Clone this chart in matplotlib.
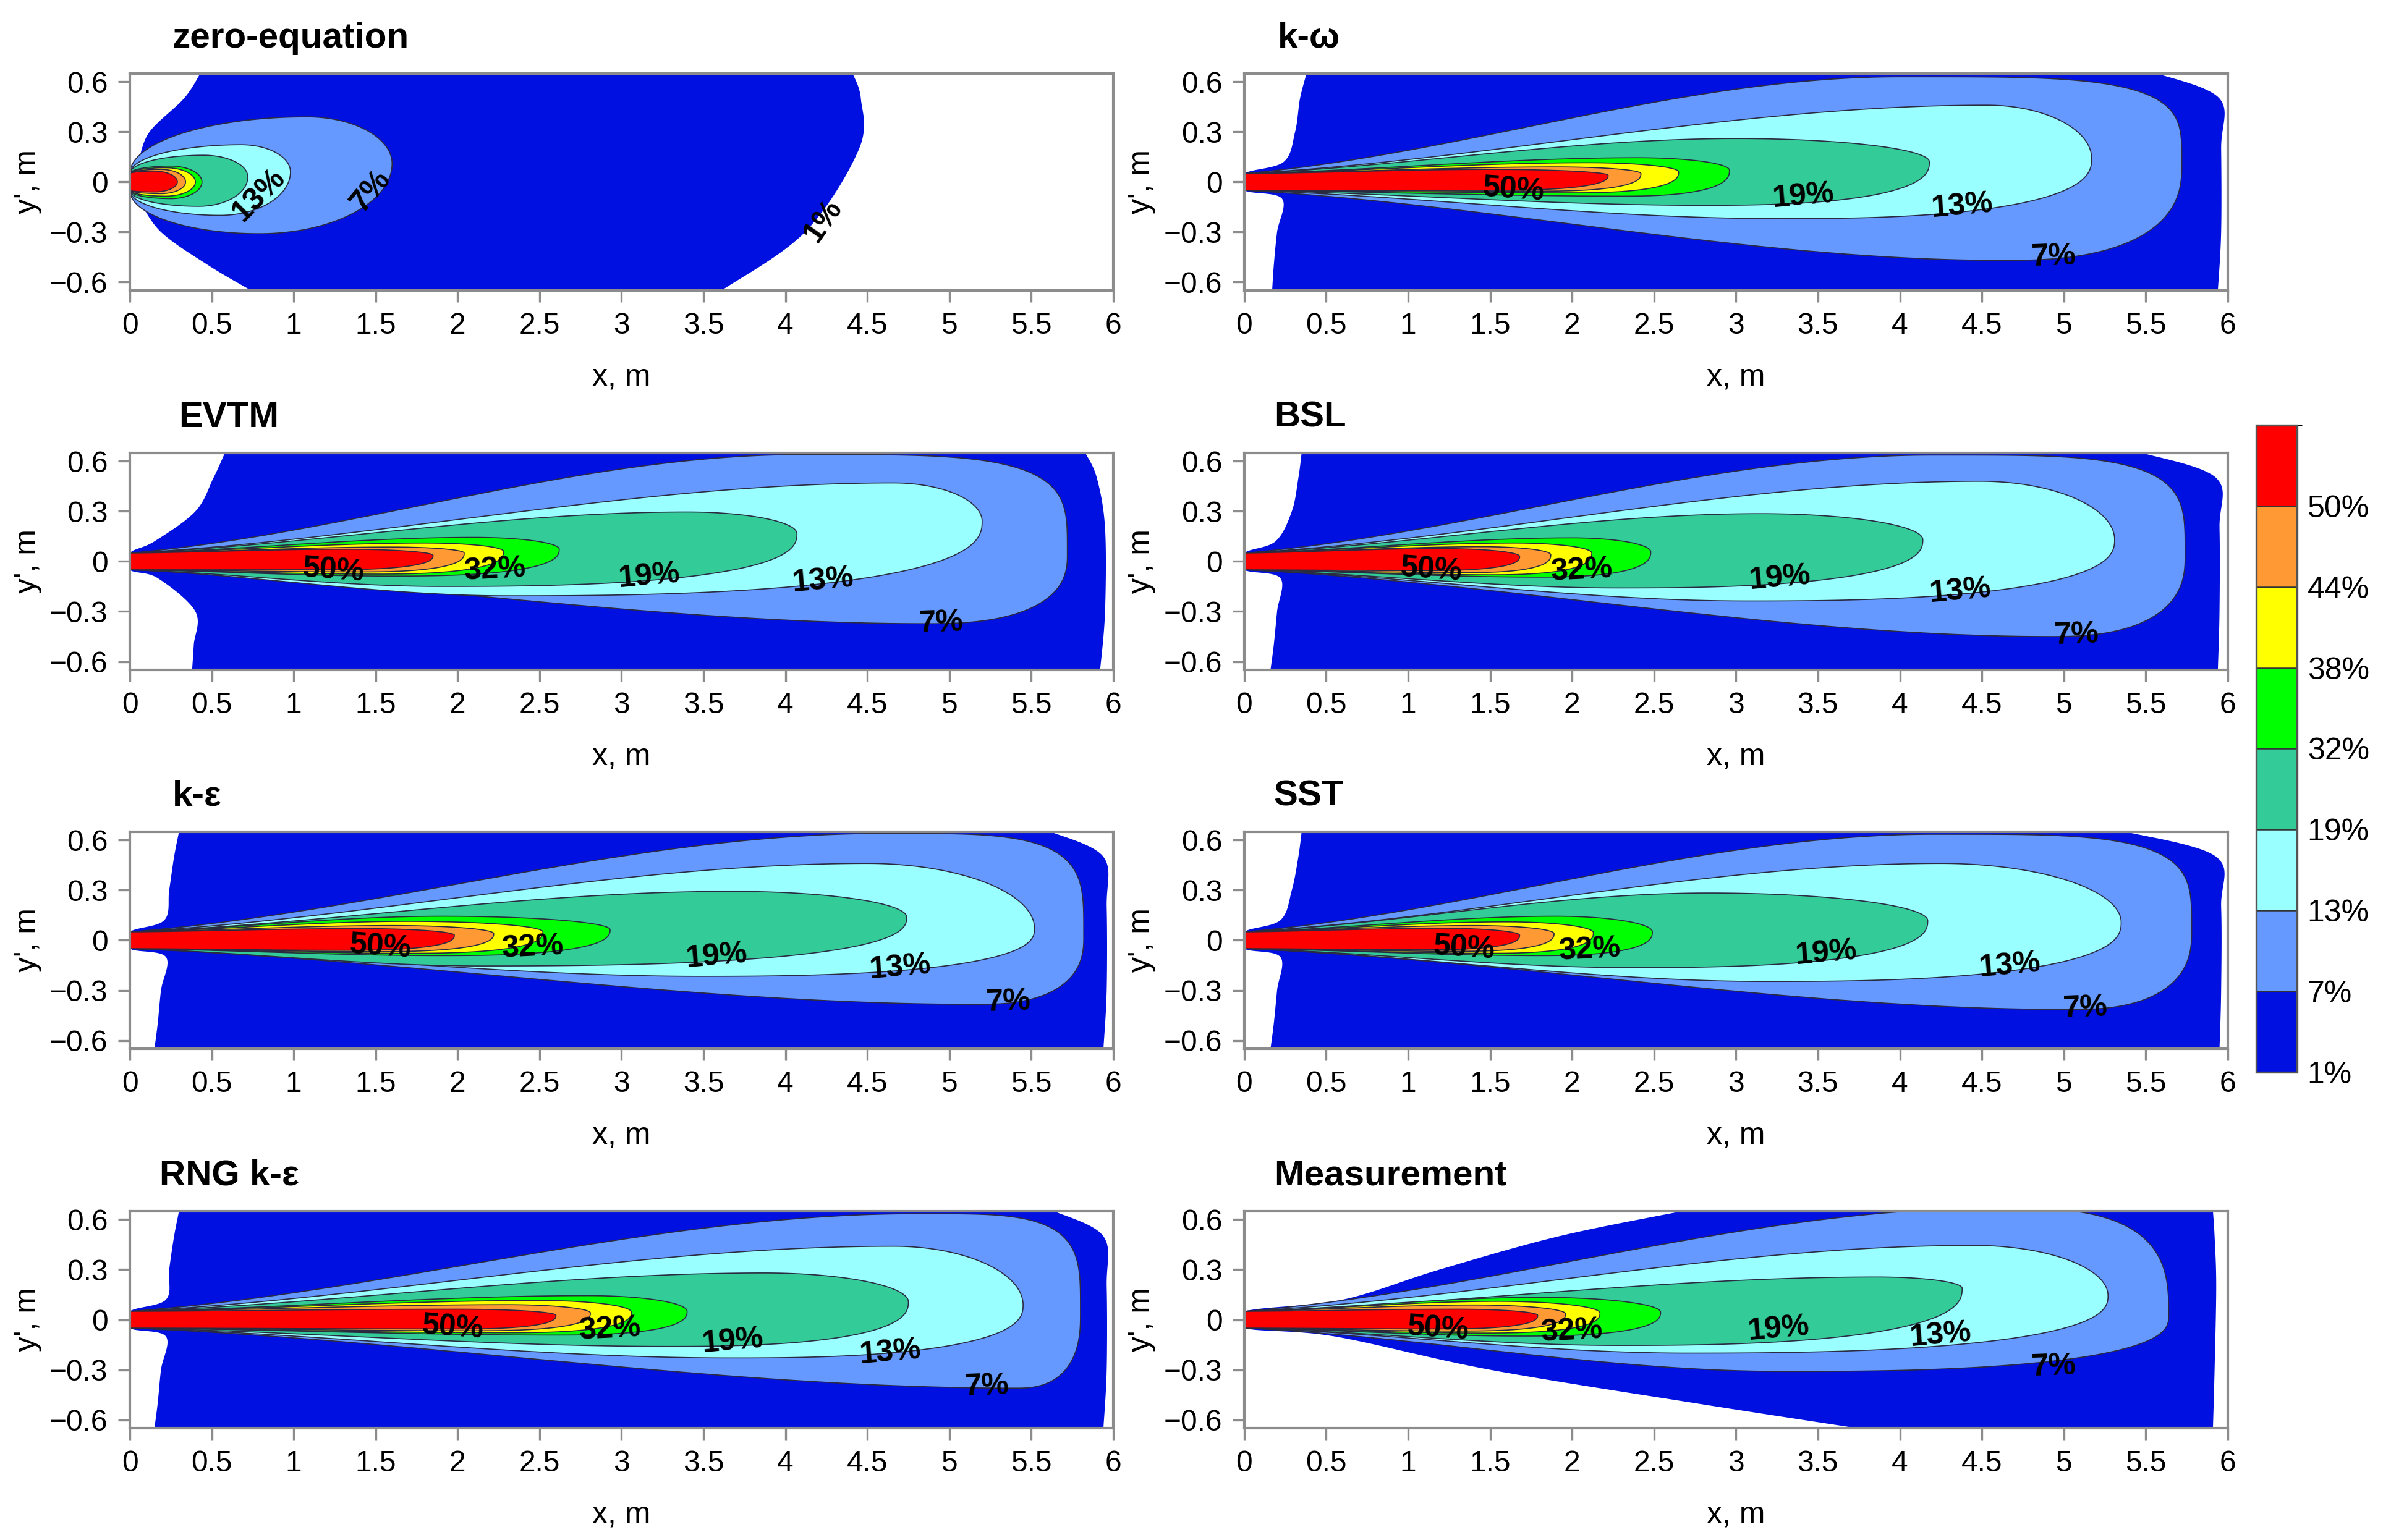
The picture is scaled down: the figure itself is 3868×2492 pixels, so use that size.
import numpy as np
import matplotlib
matplotlib.use('Agg')
import matplotlib.pyplot as plt
from matplotlib.colors import ListedColormap, BoundaryNorm
from matplotlib.cm import ScalarMappable
from matplotlib.ticker import FuncFormatter

plt.rcParams['font.family'] = ['Liberation Sans', 'DejaVu Sans']

# panels, in reading order (row by row)
panel_names = ['zero-equation', 'k-ω', 'EVTM', 'BSL', 'k-ε', 'SST', 'RNG k-ε', 'Measurement']
title_x = [0.043, 0.034, 0.05, 0.03, 0.043, 0.03, 0.03, 0.03]

# contour levels (%) and band colours, 1% band is the outer region
levels = [7, 13, 19, 32, 38, 44, 50]
bounds = [1, 7, 13, 19, 32, 38, 44, 50, 56]
colors = ['#0010E0', '#6699FF', '#99FFFF', '#33CC99', '#00FF00', '#FFFF00', '#FF9933', '#FF0000']

nozzle = 0.05  # half width of the inlet, m

# each closed contour: tip (x, y), highest point (x, y), lowest point (x, y)
tip_x = [
    [1.60, 0.98, 0.72, 0.44, 0.40, 0.34, 0.29],
    [5.72, 5.17, 4.18, 2.96, 2.65, 2.42, 2.22],
    [5.72, 5.20, 4.07, 2.62, 2.28, 2.04, 1.85],
    [5.74, 5.31, 4.14, 2.48, 2.12, 1.87, 1.68],
    [5.82, 5.52, 4.74, 2.93, 2.52, 2.22, 1.98],
    [5.78, 5.35, 4.17, 2.49, 2.13, 1.89, 1.68],
    [5.80, 5.45, 4.75, 3.40, 3.06, 2.81, 2.60],
    [5.64, 5.27, 4.38, 2.54, 2.17, 1.96, 1.79],
]
tip_y = [
    [0.11, 0.06, 0.03, 0.0, 0.0, 0.0, 0.0],
    [0.10, 0.14, 0.12, 0.07, 0.06, 0.05, 0.04],
    [0.04, 0.24, 0.166, 0.073, 0.06, 0.05, 0.036],
    [0.03, 0.13, 0.13, 0.057, 0.05, 0.04, 0.03],
    [0.02, 0.07, 0.138, 0.063, 0.05, 0.04, 0.03],
    [0.05, 0.107, 0.117, 0.05, 0.045, 0.04, 0.03],
    [0.03, 0.088, 0.107, 0.05, 0.045, 0.04, 0.026],
    [0.02, 0.144, 0.188, 0.045, 0.04, 0.035, 0.026],
]
top_x = [
    [1.08, 0.68, 0.45, 0.25, 0.22, 0.19, 0.15],
    [4.0, 4.53, 3.0, 2.4, 2.1, 1.9, 1.5],
    [4.1, 4.66, 3.4, 2.1, 1.8, 1.6, 1.3],
    [4.2, 4.49, 3.15, 2.0, 1.65, 1.45, 1.2],
    [4.6, 4.5, 3.67, 1.9, 1.7, 1.6, 1.4],
    [4.2, 4.25, 2.83, 1.9, 1.6, 1.4, 1.2],
    [4.8, 4.66, 3.87, 2.8, 2.5, 2.3, 2.0],
    [4.6, 4.45, 3.86, 1.8, 1.55, 1.4, 1.3],
]
top_y = [
    [0.39, 0.223, 0.16, 0.095, 0.085, 0.075, 0.065],
    [0.63, 0.46, 0.26, 0.145, 0.115, 0.09, 0.075],
    [0.64, 0.47, 0.296, 0.144, 0.11, 0.086, 0.073],
    [0.637, 0.48, 0.286, 0.141, 0.11, 0.088, 0.077],
    [0.64, 0.46, 0.293, 0.144, 0.113, 0.088, 0.07],
    [0.635, 0.46, 0.283, 0.144, 0.11, 0.088, 0.072],
    [0.635, 0.44, 0.28, 0.144, 0.115, 0.09, 0.063],
    [0.67, 0.445, 0.256, 0.134, 0.11, 0.088, 0.063],
]
bot_x = [
    [0.79, 0.55, 0.42, 0.25, 0.22, 0.19, 0.15],
    [4.63, 3.27, 2.8, 2.3, 2.0, 1.8, 1.5],
    [4.86, 2.3, 1.9, 1.6, 1.5, 1.4, 1.2],
    [4.92, 3.07, 2.28, 1.8, 1.5, 1.35, 1.1],
    [5.17, 3.48, 2.14, 1.9, 1.7, 1.5, 1.3],
    [5.04, 3.19, 2.36, 1.8, 1.5, 1.3, 1.1],
    [5.41, 3.67, 3.28, 2.6, 2.3, 2.1, 2.0],
    [3.3, 2.7, 2.28, 1.7, 1.45, 1.3, 1.2],
]
bot_y = [
    [-0.31, -0.2, -0.146, -0.1, -0.085, -0.07, -0.06],
    [-0.47, -0.22, -0.14, -0.085, -0.065, -0.055, -0.05],
    [-0.373, -0.206, -0.15, -0.088, -0.076, -0.063, -0.05],
    [-0.45, -0.237, -0.159, -0.094, -0.08, -0.067, -0.055],
    [-0.384, -0.216, -0.154, -0.092, -0.078, -0.068, -0.06],
    [-0.415, -0.247, -0.164, -0.092, -0.078, -0.066, -0.057],
    [-0.41, -0.229, -0.16, -0.092, -0.078, -0.066, -0.055],
    [-0.31, -0.2, -0.154, -0.098, -0.08, -0.068, -0.055],
]
# roundness of the 7% contour front, roundness of lower tails, shape near inlet
m7_top = [2, 4, 4, 4, 4, 4, 4, 3]
m_bot = [2, 2.5, 2.5, 2.5, 2.5, 2.5, 2.5, 2.5]
front = ['round', 'jet', 'jet', 'jet', 'jet', 'jet', 'jet', 'jet']

# outline of the 1% region: left edge x at these y, right edge x at these y
edge_left_y = [0.65, 0.5, 0.3, 0.12, 0.05, -0.05, -0.1, -0.3, -0.5, -0.65]
edge_left_x = [
    [0.43, 0.33, 0.12, 0.05, 0.01, 0.01, 0.05, 0.19, 0.48, 0.74],
    [0.38, 0.34, 0.31, 0.24, 0.0, 0.0, 0.23, 0.20, 0.18, 0.17],
    [0.58, 0.51, 0.40, 0.15, 0.0, 0.0, 0.17, 0.40, 0.39, 0.38],
    [0.35, 0.33, 0.29, 0.19, 0.0, 0.0, 0.22, 0.20, 0.18, 0.16],
    [0.30, 0.27, 0.24, 0.21, 0.0, 0.0, 0.22, 0.19, 0.17, 0.15],
    [0.35, 0.33, 0.29, 0.22, 0.0, 0.0, 0.22, 0.20, 0.18, 0.16],
    [0.30, 0.27, 0.24, 0.22, 0.0, 0.0, 0.22, 0.19, 0.17, 0.15],
    [2.67, 1.92, 1.19, 0.60, 0.0, 0.0, 0.55, 1.50, 2.75, 3.74],
]
edge_right_y = [0.65, 0.5, 0.2, -0.3, -0.65]
edge_right_x = [
    [4.41, 4.46, 4.45, 4.12, 3.61],
    [5.57, 5.95, 5.96, 5.96, 5.94],
    [5.83, 5.90, 5.95, 5.95, 5.92],
    [5.48, 5.93, 5.95, 5.95, 5.94],
    [5.62, 5.94, 5.96, 5.96, 5.94],
    [5.38, 5.93, 5.96, 5.96, 5.95],
    [5.64, 5.94, 5.96, 5.96, 5.94],
    [5.91, 5.92, 5.93, 5.92, 5.91],
]

# in-plot contour labels
label_text = [
    ['13%', '7%', '1%'],
    ['50%', '19%', '13%', '7%'],
    ['50%', '32%', '19%', '13%', '7%'],
    ['50%', '32%', '19%', '13%', '7%'],
    ['50%', '32%', '19%', '13%', '7%'],
    ['50%', '32%', '19%', '13%', '7%'],
    ['50%', '32%', '19%', '13%', '7%'],
    ['50%', '32%', '19%', '13%', '7%'],
]
label_x = [
    [0.79, 1.47, 4.23],
    [1.64, 3.41, 4.38, 4.94],
    [1.24, 2.23, 3.17, 4.23, 4.95],
    [1.14, 2.06, 3.27, 4.37, 5.08],
    [1.53, 2.46, 3.58, 4.70, 5.36],
    [1.34, 2.11, 3.55, 4.67, 5.13],
    [1.97, 2.93, 3.68, 4.64, 5.23],
    [1.18, 2.00, 3.26, 4.25, 4.94],
]
label_y = [
    [-0.077, -0.054, -0.23],
    [-0.05, -0.085, -0.146, -0.45],
    [-0.055, -0.05, -0.088, -0.117, -0.37],
    [-0.051, -0.055, -0.10, -0.18, -0.44],
    [-0.042, -0.045, -0.098, -0.164, -0.37],
    [-0.048, -0.06, -0.077, -0.154, -0.41],
    [-0.048, -0.06, -0.129, -0.198, -0.40],
    [-0.055, -0.07, -0.055, -0.092, -0.284],
]
label_rot = {'50%': -4, '32%': 3, '19%': 5, '13%': 5, '7%': 2}
zero_rot = [45, 50, 55]


def catmull(xs, ys, n=20):
    p = np.column_stack([xs, ys]).astype(float)
    p = np.vstack([p[0], p, p[-1]])
    t = np.linspace(0, 1, n, endpoint=False)[:, None]
    seg = []
    for i in range(1, len(p) - 2):
        p0, p1, p2, p3 = p[i - 1], p[i], p[i + 1], p[i + 2]
        seg.append(0.5 * (2 * p1 + (p2 - p0) * t + (2 * p0 - 5 * p1 + 4 * p2 - p3) * t ** 2
                          + (3 * p1 - p0 - 3 * p2 + p3) * t ** 3))
    seg.append(p[-2:-1])
    return np.vstack(seg)


def branch(x, y0, xp, yp, L, yt, m, kind):
    t = np.clip(x / xp, 0, 1)
    if kind == 'round':
        s = np.sqrt(1 - (1 - t) ** 2)
    else:
        s = 0.7 * (3 * t ** 2 - 2 * t ** 3) + 0.3 * (1 - (1 - t) ** 2)
    head = y0 + (yp - y0) * s
    u = np.clip((x - xp) / (L - xp), 0, 1)
    tail = yt + (yp - yt) * (1 - u ** m) ** (1 / m)
    return np.where(x <= xp, head, tail)


W, H = 3868, 2492
fig = plt.figure(figsize=(W / 300, H / 300), dpi=300)

col_left = [0.0543, 0.5204]
row_bottom = [0.8114, 0.565, 0.319, 0.0726]
ax_w, ax_h = 0.4113, 0.1409
grey = '#8c8c8c'
fmt = FuncFormatter(lambda v, p: ('%g' % v).replace('-', '\u2212'))

for i, name in enumerate(panel_names):
    ax = fig.add_axes([col_left[i % 2], row_bottom[i // 2], ax_w, ax_h])

    # 1% region
    left = catmull(edge_left_x[i], edge_left_y)
    right = catmull(edge_right_x[i], edge_right_y)[::-1]
    poly = np.vstack([left, right])
    ax.fill(poly[:, 0], poly[:, 1], color=colors[0], lw=0, zorder=1)

    # higher levels, outer to inner
    for k, lev in enumerate(levels):
        L = tip_x[i][k]
        x = L * np.sin(np.linspace(0, np.pi / 2, 600))
        mt = m7_top[i] if k == 0 else 2
        up = branch(x, nozzle, top_x[i][k], top_y[i][k], L, tip_y[i][k], mt, front[i])
        lo = branch(x, -nozzle, bot_x[i][k], bot_y[i][k], L, tip_y[i][k], m_bot[i], front[i])
        ax.fill(np.r_[x, x[::-1]], np.r_[up, lo[::-1]], fc=colors[k + 1],
                ec='#2a2a40', lw=0.4, zorder=2 + k)

    for j, txt in enumerate(label_text[i]):
        rot = zero_rot[j] if i == 0 else label_rot[txt]
        ax.text(label_x[i][j], label_y[i][j], txt, fontsize=12, fontweight='bold',
                ha='center', va='center', rotation=rot, zorder=20)

    ax.set_xlim(0, 6)
    ax.set_ylim(-0.65, 0.65)
    ax.set_xticks(np.arange(0, 6.01, 0.5))
    ax.set_yticks([-0.6, -0.3, 0, 0.3, 0.6])
    ax.xaxis.set_major_formatter(fmt)
    ax.yaxis.set_major_formatter(fmt)
    ax.tick_params(direction='out', length=4.5, width=0.8, color=grey,
                   labelsize=11.5, pad=4)
    for sp in ax.spines.values():
        sp.set_color(grey)
        sp.set_linewidth(1.0)
        sp.set_zorder(30)
    ax.set_xlabel('x, m', fontsize=12, labelpad=9)
    ax.set_ylabel("y', m", fontsize=12, labelpad=3)
    ax.text(title_x[i], 1.12, name, transform=ax.transAxes, fontsize=14,
            fontweight='bold', va='baseline', ha='left')

# colour bar
cax = fig.add_axes([0.9436, 0.3038, 0.0171, 0.4201])
cmap = ListedColormap(colors)
norm = BoundaryNorm(bounds, cmap.N)
cb = fig.colorbar(ScalarMappable(norm=norm, cmap=cmap), cax=cax, ticks=bounds[:-1],
                  spacing='uniform', drawedges=True)
cb.ax.set_yticklabels(['%d%%' % b for b in bounds[:-1]])
cb.ax.tick_params(length=0, labelsize=12, pad=4)
cb.outline.set_edgecolor('#555555')
cb.outline.set_linewidth(0.8)
cb.dividers.set_color('#333333')
cb.dividers.set_linewidth(0.6)

fig.savefig('out.png', dpi=300)
